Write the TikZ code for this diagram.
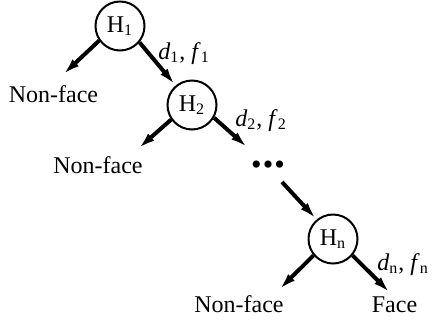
\documentclass[tikz,border=0pt]{standalone}
\usepackage{fontspec}
\setmainfont{Liberation Serif}
\usetikzlibrary{arrows.meta, positioning}

\begin{document}
\begin{tikzpicture}[
  x=0.5pt, y=-0.5pt,
  font=\fontsize{12}{14}\selectfont,
  hyp/.style ={circle, draw=black, line width=1pt, minimum size=24.5pt,
               inner sep=0pt},
  lbl/.style ={inner sep=3.3pt},
  arr/.style ={-{Latex[length=9pt,width=4.6pt]}, line width=2pt}
]
\useasboundingbox (0,0) rectangle (432,322);
% ---- Cascade of classifiers ------------------------------------------------
\node[hyp] (h1) at (120,26) {H\textsubscript{1}};
\node[hyp, on grid, below right=39.5pt and 36pt of h1] (h2) {H\textsubscript{2}};
\node[on grid, below right=31.5pt and 38pt of h2] (dots)
  {\fontsize{15}{15}\selectfont\textbullet\hspace{0.6pt}\textbullet\hspace{0.6pt}\textbullet};
\node[hyp, on grid, below right=35.5pt and 32.5pt of dots] (hn) {H\textsubscript{n}};
% ---- Decisions -------------------------------------------------------------
\node[lbl, anchor=base] (nf1)  at (53.5,102) {Non-face};
\node[lbl, anchor=base] (nf2)  at (98,173)   {Non-face};
\node[lbl, anchor=base] (nf3)  at (239,312)  {Non-face};
\node[lbl, anchor=base] (face) at (394.5,312) {Face};
% ---- Thresholds ------------------------------------------------------------
\node[inner sep=0pt, anchor=base west] (t1) at (158,59)
  {\textit{d}\textsubscript{1}, \textit{f}\textsubscript{1}};
\node[inner sep=0pt, anchor=base west] (t2) at (235,126)
  {\textit{d}\textsubscript{2}, \textit{f}\textsubscript{2}};
\node[inner sep=0pt, anchor=base west] (tn) at (377,270)
  {\textit{d}\textsubscript{n}, \textit{f}\textsubscript{n}};
% ---- Arrows ----------------------------------------------------------------
\draw[arr] (h1.-145) -- ([xshift=4.5pt,yshift=1.5pt]nf1.north);
\draw[arr] (h1.-40)  -- (h2.130);
\draw[arr] (h2.-145) -- ([xshift=-6pt]nf2.north east);
\draw[arr] (h2.-30)  -- ([xshift=-10pt,yshift=10pt]dots.center);
\draw[arr] ([xshift=7pt,yshift=-7pt]dots.center) -- (hn.130);
\draw[arr] (hn.-140) -- ([xshift=-6pt,yshift=-1pt]nf3.north east);
\draw[arr] (hn.-40)  -- ([xshift=-2pt,yshift=-2pt]face.north);
\end{tikzpicture}
\end{document}
